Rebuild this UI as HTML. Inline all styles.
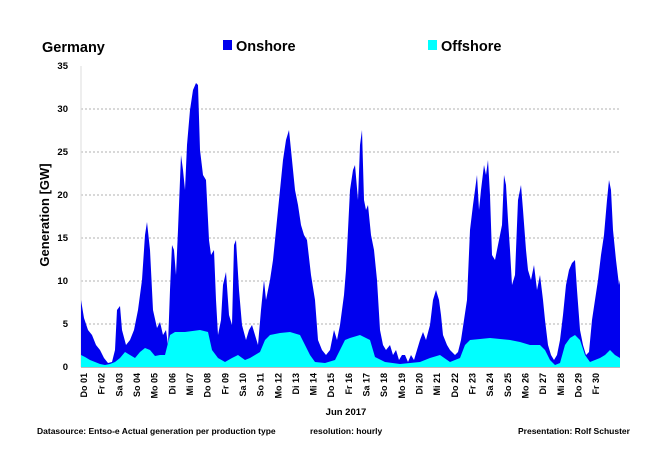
<!DOCTYPE html>
<html><head><meta charset="utf-8"><style>
body{margin:0;background:#fff}
svg text{font-family:"Liberation Sans",sans-serif}
</style></head><body>
<svg width="650" height="457" viewBox="0 0 650 457" xmlns="http://www.w3.org/2000/svg">
<rect width="650" height="457" fill="#fff"/>
<text x="42" y="52" font-size="14.5" font-weight="bold">Germany</text>
<rect x="223" y="40" width="9" height="10" fill="#0000ee"/>
<text x="236" y="51" font-size="14.5" font-weight="bold">Onshore</text>
<rect x="428" y="40" width="9" height="10" fill="#00ffff"/>
<text x="441" y="51" font-size="14.5" font-weight="bold">Offshore</text>
<g stroke="#999" stroke-dasharray="2,2" stroke-width="0.8">
<line x1="81" x2="620" y1="324" y2="324"/><line x1="81" x2="620" y1="281" y2="281"/>
<line x1="81" x2="620" y1="238" y2="238"/><line x1="81" x2="620" y1="195" y2="195"/>
<line x1="81" x2="620" y1="152" y2="152"/><line x1="81" x2="620" y1="109" y2="109"/>
</g>
<line x1="81" y1="66" x2="81" y2="367" stroke="#ddd"/>
<g font-size="9.5" font-weight="bold" text-anchor="end">
<text x="68" y="370">0</text><text x="68" y="327">5</text><text x="68" y="284">10</text>
<text x="68" y="241">15</text><text x="68" y="198">20</text><text x="68" y="155">25</text>
<text x="68" y="112">30</text><text x="68" y="69">35</text>
</g>
<text transform="translate(49,215) rotate(-90)" font-size="13" font-weight="bold" text-anchor="middle">Generation  [GW]</text>
<polygon fill="#0000ee" points="81,367 81,300 84,318 88,330 92,335 96,345 100,350 104,358 108,363 112,362 115,350 117,310 120,306 122,330 126,345 130,340 134,330 138,310 142,280 145,235 147,222 150,250 153,310 157,328 160,322 163,335 166,330 168,345 170,290 172,245 174,250 176,275 178,230 181,155 183,170 185,190 187,145 190,110 193,90 196,83 198,85 200,150 203,175 206,180 209,240 211,255 214,250 216,300 218,335 221,320 223,285 226,272 229,315 232,325 234,245 236,240 239,290 242,325 246,340 249,330 252,325 255,335 258,345 261,310 264,280 266,300 268,290 270,280 273,260 276,230 279,200 283,160 286,140 289,130 292,160 295,190 298,205 301,225 304,235 307,240 311,275 315,300 318,340 322,350 326,355 330,350 334,330 337,340 340,325 342,310 344,295 346,270 348,230 350,190 353,170 355,165 358,200 360,145 362,130 364,200 366,210 368,205 371,235 374,250 377,280 380,330 383,345 386,350 390,345 393,355 396,350 399,360 402,355 405,355 408,362 411,355 414,360 417,350 420,340 423,332 426,340 430,325 433,300 436,290 439,300 441,315 443,335 447,345 450,350 455,355 458,352 461,340 464,320 467,300 470,230 473,205 475,190 477,175 479,210 481,190 484,165 486,175 488,160 490,195 492,255 495,260 498,245 502,225 504,175 506,185 508,220 510,250 512,285 515,275 518,200 521,185 523,210 526,250 528,270 531,280 534,265 537,290 540,275 543,300 545,320 548,345 551,355 554,360 557,355 560,340 563,315 566,285 569,270 572,263 575,260 577,290 580,330 583,345 586,355 589,352 592,320 595,300 598,280 601,255 604,235 607,200 609,180 611,190 613,230 616,260 619,285 620,280 620,367"/>
<polygon fill="#00ffff" points="81,367 81,355 85,357 90,360 95,362 100,364 105,365 110,364 115,362 120,358 125,352 130,355 135,358 140,352 145,348 150,350 155,356 160,355 165,355 170,335 175,332 185,332 200,330 208,332 212,350 218,358 225,362 232,358 238,355 245,360 250,358 255,355 260,352 265,340 270,335 280,333 290,332 300,335 310,355 315,362 325,363 335,360 340,350 345,340 350,338 360,335 370,340 375,357 385,362 400,364 420,362 430,358 440,355 450,362 460,358 465,345 470,340 490,338 510,340 520,342 530,345 540,345 545,350 550,360 555,365 560,363 565,345 570,338 575,335 580,340 585,355 590,362 595,360 600,358 605,355 610,350 615,355 620,358 620,367"/>
<line x1="81" y1="367.5" x2="620" y2="367.5" stroke="#bbb"/>
<g font-size="9" font-weight="bold" text-anchor="end">
<text transform="translate(87,373) rotate(-90)">Do 01</text>
<text transform="translate(104.7,373) rotate(-90)">Fr 02</text>
<text transform="translate(122.3,373) rotate(-90)">Sa 03</text>
<text transform="translate(140,373) rotate(-90)">So 04</text>
<text transform="translate(157.6,373) rotate(-90)">Mo 05</text>
<text transform="translate(175.3,373) rotate(-90)">Di 06</text>
<text transform="translate(193,373) rotate(-90)">Mi 07</text>
<text transform="translate(210.6,373) rotate(-90)">Do 08</text>
<text transform="translate(228.3,373) rotate(-90)">Fr 09</text>
<text transform="translate(245.9,373) rotate(-90)">Sa 10</text>
<text transform="translate(263.6,373) rotate(-90)">So 11</text>
<text transform="translate(281.3,373) rotate(-90)">Mo 12</text>
<text transform="translate(298.9,373) rotate(-90)">Di 13</text>
<text transform="translate(316.6,373) rotate(-90)">Mi 14</text>
<text transform="translate(334.2,373) rotate(-90)">Do 15</text>
<text transform="translate(351.9,373) rotate(-90)">Fr 16</text>
<text transform="translate(369.6,373) rotate(-90)">Sa 17</text>
<text transform="translate(387.2,373) rotate(-90)">So 18</text>
<text transform="translate(404.9,373) rotate(-90)">Mo 19</text>
<text transform="translate(422.5,373) rotate(-90)">Di 20</text>
<text transform="translate(440.2,373) rotate(-90)">Mi 21</text>
<text transform="translate(457.9,373) rotate(-90)">Do 22</text>
<text transform="translate(475.5,373) rotate(-90)">Fr 23</text>
<text transform="translate(493.2,373) rotate(-90)">Sa 24</text>
<text transform="translate(510.8,373) rotate(-90)">So 25</text>
<text transform="translate(528.5,373) rotate(-90)">Mo 26</text>
<text transform="translate(546.2,373) rotate(-90)">Di 27</text>
<text transform="translate(563.8,373) rotate(-90)">Mi 28</text>
<text transform="translate(581.5,373) rotate(-90)">Do 29</text>
<text transform="translate(599.1,373) rotate(-90)">Fr 30</text>
</g>
<text x="346" y="415" font-size="9.5" font-weight="bold" text-anchor="middle">Jun 2017</text>
<g font-size="8.5" font-weight="bold">
<text x="37" y="434">Datasource: Entso-e  Actual generation per production type</text>
<text x="310" y="434">resolution: hourly</text>
<text x="518" y="434">Presentation:  Rolf Schuster</text>
</g>
</svg>
</body></html>
